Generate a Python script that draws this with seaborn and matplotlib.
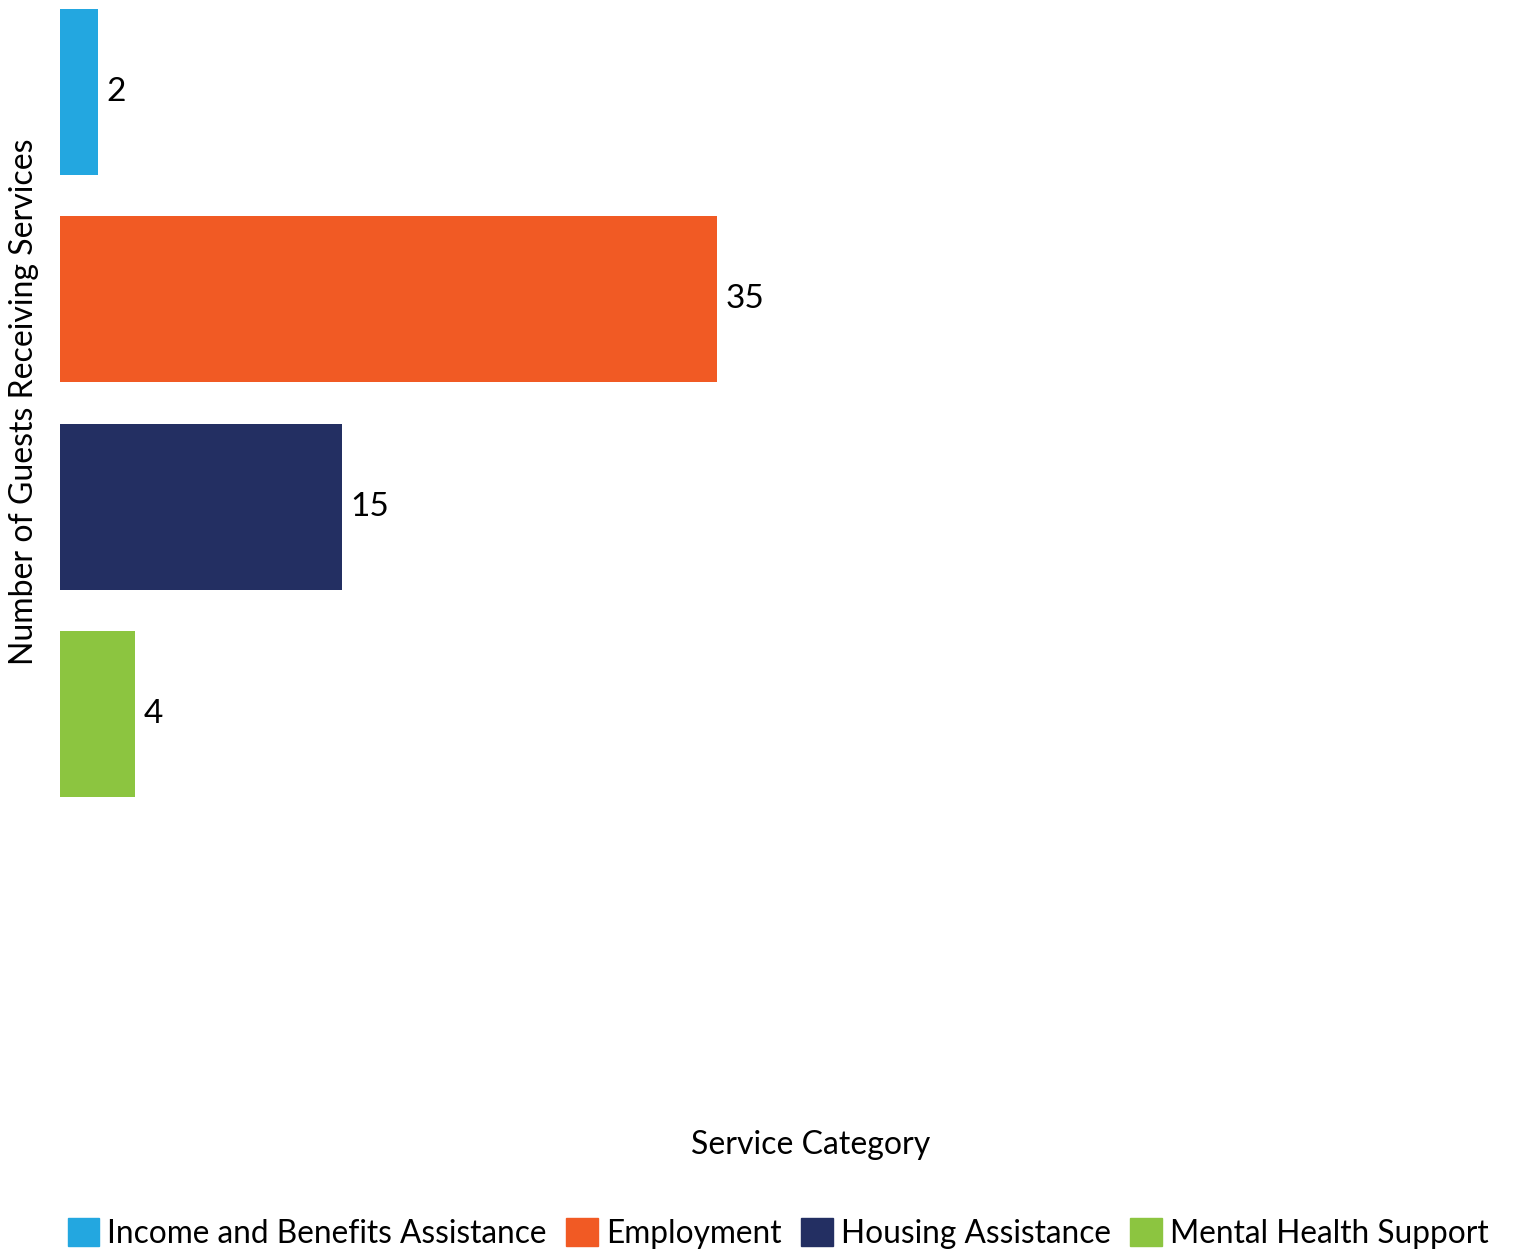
import matplotlib
matplotlib.use('Agg')
import matplotlib.pyplot as plt
import seaborn as sns
import pandas as pd

# 数据
categories = ['Income and Benefits Assistance', 'Employment', 'Housing Assistance', 'Mental Health Support']
guests = [2, 35, 15, 4]
colors = ['#23A7E0', '#F15A24', '#232F62', '#8CC540']

sns.set_style('white')
plt.rcParams['font.family'] = ['Lato', 'DejaVu Sans']
plt.rcParams['text.color'] = 'black'
plt.rcParams['axes.labelcolor'] = 'black'

df = pd.DataFrame({'category': categories, 'guests': guests})

W, H = 1513, 1249
fig = plt.figure(figsize=(W / 100, H / 100), dpi=100)
# 轴区域（像素换算）
ax = fig.add_axes([60 / W, 1 - 1110 / H, 1440 / W, 1110 / H])

sns.barplot(data=df, y='category', x='guests', hue='category', palette=colors,
            dodge=False, legend=False, width=0.8, ax=ax, saturation=1, linewidth=0)

for cont in ax.containers:
    ax.bar_label(cont, padding=6.5, fontsize=24, color='black')

ax.set_xlim(0, 1440 / 18.77)
ax.set_ylim(4.91, -0.444)
ax.set_xticks([])
ax.set_yticks([])
sns.despine(ax=ax, left=True, bottom=True)

ax.set_xlabel('Service Category', fontsize=23)
ax.xaxis.set_label_coords((811 - 60) / 1440, -(1130 - 1110) / 1110)
ax.set_ylabel('Number of Guests Receiving Services', fontsize=23)
ax.yaxis.label.set_va('center')
ax.yaxis.set_label_coords((24 - 60) / 1440, 1 - 402 / 1110)

handles = [plt.Rectangle((0, 0), 1, 1, color=c) for c in colors]
fig.legend(handles, categories, loc='lower center', bbox_to_anchor=(778 / W, 0.0),
           ncol=4, frameon=False, fontsize=22.8, handlelength=1.0, handleheight=1.0,
           handletextpad=0.25, columnspacing=0.62, borderpad=0.0, borderaxespad=0.0)

fig.savefig('out.png', dpi=100)
